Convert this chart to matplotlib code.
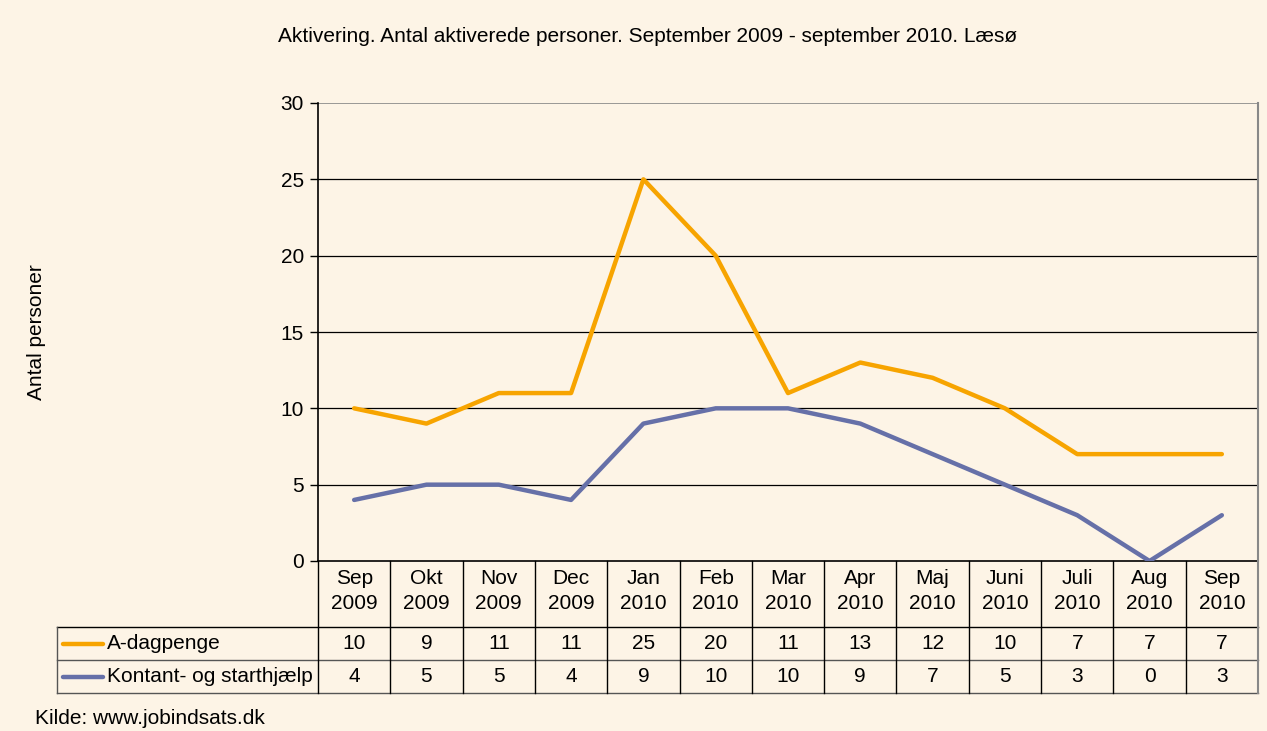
import matplotlib
matplotlib.use("Agg")
import matplotlib.pyplot as plt
from matplotlib.lines import Line2D

plt.rcParams['font.family'] = ['Liberation Sans', 'DejaVu Sans']

months = ["Sep\n2009", "Okt\n2009", "Nov\n2009", "Dec\n2009", "Jan\n2010", "Feb\n2010",
          "Mar\n2010", "Apr\n2010", "Maj\n2010", "Juni\n2010", "Juli\n2010", "Aug\n2010", "Sep\n2010"]
a_dagpenge = [10, 9, 11, 11, 25, 20, 11, 13, 12, 10, 7, 7, 7]
kontant = [4, 5, 5, 4, 9, 10, 10, 9, 7, 5, 3, 0, 3]
series_names = ["A-dagpenge", "Kontant- og starthjælp"]
yticks = [0, 5, 10, 15, 20, 25, 30]

BG = "#FDF4E6"
ORANGE = "#F7A400"
BLUE = "#6670A8"
FS = 15

W, H = 1267, 731
fig = plt.figure(figsize=(W / 100, H / 100), dpi=100, facecolor=BG)

def fx(px):
    return px / W

def fy(py):
    return 1 - py / H

L, R, T, B = 318, 1258, 103, 561
ax = fig.add_axes([fx(L), fy(B), fx(R) - fx(L), fy(T) - fy(B)])
ax.set_facecolor(BG)
n = len(months)
xs = [i + 0.5 for i in range(n)]
ax.plot(xs, a_dagpenge, color=ORANGE, lw=3.2, solid_capstyle='round', zorder=3)
ax.plot(xs, kontant, color=BLUE, lw=3.2, solid_capstyle='round', zorder=3)
ax.set_xlim(0, n)
ax.set_ylim(0, 30)
ax.set_yticks(yticks)
ax.set_yticklabels([str(v) for v in yticks], fontsize=FS)
ax.tick_params(axis='y', length=6, width=1, pad=4, color='black')
ax.set_xticks([])
for v in yticks[1:-1]:
    ax.axhline(v, color='black', lw=0.9, zorder=1)
ax.axhline(30, color='#888888', lw=1.2, zorder=1)
ax.spines['top'].set_visible(False)
ax.spines['right'].set_color('#888888')
ax.spines['right'].set_linewidth(1.5)
ax.spines['left'].set_linewidth(1.2)
ax.spines['bottom'].set_linewidth(1.2)

fig.text(fx(37), fy(332), "Antal personer", rotation=90, ha='center', va='center', fontsize=FS)
fig.text(fx(648), fy(37), "Aktivering. Antal aktiverede personer. September 2009 - september 2010. Læsø",
         ha='center', va='center', fontsize=FS)
fig.text(fx(35), fy(718), "Kilde: www.jobindsats.dk", ha='left', va='center', fontsize=FS)

# Table
row_top = 561
row_hdr_bot = 627
row1_bot = 660
row2_bot = 693
legend_left = 57
colw = (R - L) / n

def hline(x0, x1, y, color='black', lw=1.0):
    fig.add_artist(Line2D([fx(x0), fx(x1)], [fy(y), fy(y)], color=color, lw=lw, transform=fig.transFigure))

def vline(x, y0, y1, color='black', lw=1.0):
    fig.add_artist(Line2D([fx(x), fx(x)], [fy(y0), fy(y1)], color=color, lw=lw, transform=fig.transFigure))

hline(legend_left, R, row_hdr_bot)
hline(legend_left, R, row1_bot, color='#555555')
hline(legend_left, R, row2_bot, color='#555555')
vline(legend_left, row_hdr_bot, row2_bot, color='#555555')
for i in range(n + 1):
    x = L + i * colw
    col = '#888888' if i == n else 'black'
    vline(x, row_top, row2_bot, color=col, lw=1.0 if i < n else 1.5)

for i, m in enumerate(months):
    cx = L + (i + 0.5) * colw
    fig.text(fx(cx), fy(591), m, ha='center', va='center',
             fontsize=FS, linespacing=1.4)
    fig.text(fx(cx), fy((row_hdr_bot + row1_bot) / 2), str(a_dagpenge[i]), ha='center', va='center', fontsize=FS)
    fig.text(fx(cx), fy((row1_bot + row2_bot) / 2), str(kontant[i]), ha='center', va='center', fontsize=FS)

for (ytop, ybot), name, col in zip([(row_hdr_bot, row1_bot), (row1_bot, row2_bot)], series_names, [ORANGE, BLUE]):
    yc = (ytop + ybot) / 2
    fig.add_artist(Line2D([fx(63), fx(103)], [fy(yc), fy(yc)], color=col, lw=3.2,
                          solid_capstyle='round', transform=fig.transFigure))
    fig.text(fx(107), fy(yc), name, ha='left', va='center', fontsize=FS)

fig.savefig("out.png", dpi=100, facecolor=BG)
